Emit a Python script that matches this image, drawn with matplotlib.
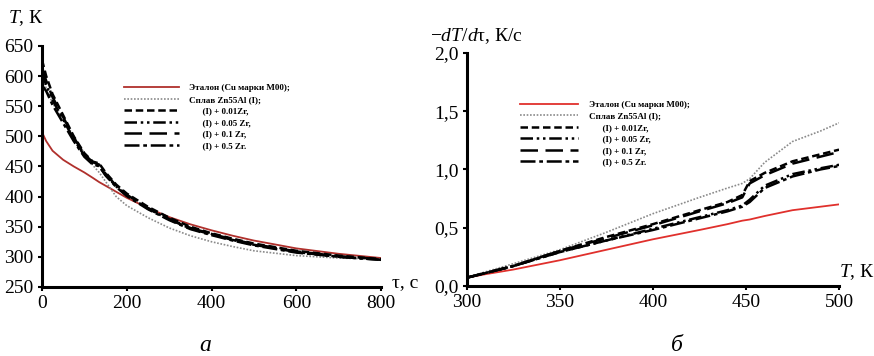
import matplotlib
matplotlib.use("Agg")
import matplotlib.pyplot as plt
from matplotlib.ticker import FuncFormatter

plt.rcParams['font.family'] = ['Liberation Serif', 'DejaVu Serif']
plt.rcParams['mathtext.fontset'] = 'custom'
plt.rcParams['mathtext.rm'] = 'Liberation Serif'
plt.rcParams['mathtext.it'] = 'Liberation Serif:italic'

# ---- data, panel a: T(tau) ----
tau = [0, 10, 25, 50, 75, 100, 120, 135, 150, 175, 200, 250, 300, 350, 400, 450, 500, 600, 700, 800]
t_ref = [507, 492, 476, 461, 450, 440, 431, 424, 418, 408, 398, 381, 366, 354, 344, 335, 327, 314, 305, 298]
t_alloy = [598, 580, 555, 528, 500, 472, 452, 440, 425, 400, 385, 365, 348, 335, 325, 317, 310, 302, 298, 296]
t_zr001 = [627, 600, 570, 535, 500, 472, 458, 455, 440, 420, 405, 383, 365, 350, 339, 330, 322, 310, 302, 296]
t_zr005 = [605, 585, 560, 528, 495, 468, 455, 450, 436, 417, 402, 380, 362, 347, 337, 328, 320, 308, 300, 295]
t_zr01 = [615, 592, 565, 532, 498, 470, 457, 453, 438, 418, 403, 381, 363, 348, 338, 329, 321, 309, 301, 296]
t_zr05 = [585, 575, 552, 522, 492, 466, 453, 451, 435, 416, 401, 379, 361, 346, 336, 327, 319, 307, 300, 295]

# ---- data, panel b: -dT/dtau(T) ----
temp = [300, 310, 325, 350, 375, 400, 425, 440, 448, 452, 460, 475, 490, 500]
r_ref = [0.07, 0.10, 0.14, 0.22, 0.31, 0.40, 0.48, 0.53, 0.56, 0.57, 0.60, 0.65, 0.68, 0.70]
r_alloy = [0.07, 0.12, 0.19, 0.31, 0.46, 0.62, 0.76, 0.84, 0.88, 0.92, 1.06, 1.24, 1.33, 1.40]
r_zr001 = [0.07, 0.11, 0.17, 0.30, 0.42, 0.53, 0.65, 0.72, 0.78, 0.90, 0.97, 1.07, 1.13, 1.17]
r_zr01 = [0.07, 0.11, 0.17, 0.30, 0.41, 0.52, 0.64, 0.71, 0.76, 0.88, 0.95, 1.05, 1.11, 1.15]
r_zr005 = [0.07, 0.11, 0.17, 0.29, 0.39, 0.49, 0.59, 0.65, 0.69, 0.74, 0.86, 0.96, 1.01, 1.04]
r_zr05 = [0.07, 0.11, 0.17, 0.29, 0.39, 0.48, 0.58, 0.64, 0.68, 0.72, 0.84, 0.94, 1.00, 1.03]

labels = ["Эталон (Cu марки М00);", "Сплав Zn55Al (I);",
          "      (I) + 0.01Zr,", "      (I) + 0.05 Zr,",
          "      (I) + 0.1 Zr,", "      (I) + 0.5 Zr."]

styles = [
    dict(color='#b0302c', lw=1.3, ls='-'),
    dict(color='#8a8a8a', lw=1.2, ls=(0, (1, 1))),
    dict(color='black', lw=1.8, ls=(0, (3, 1.5))),
    dict(color='black', lw=1.8, ls=(0, (5, 1.5, 1, 1.5, 1, 1.5))),
    dict(color='black', lw=1.8, ls=(0, (7, 3))),
    dict(color='black', lw=1.8, ls=(0, (6, 1.5, 1.5, 1.5))),
]

fig = plt.figure(figsize=(8.74, 3.56), dpi=100)
ax1 = fig.add_axes([0.048, 0.194, 0.388, 0.677])
ax2 = fig.add_axes([0.534, 0.197, 0.426, 0.654])

for ys, st, lab in zip([t_ref, t_alloy, t_zr001, t_zr005, t_zr01, t_zr05], styles, labels):
    ax1.plot(tau, ys, label=lab, **st)

styles_b = [dict(s) for s in styles]
styles_b[0]['color'] = '#e0302c'
for ys, st, lab in zip([r_ref, r_alloy, r_zr001, r_zr005, r_zr01, r_zr05], styles_b, labels):
    ax2.plot(temp, ys, label=lab, **st)

ax1.set_xlim(0, 800)
ax1.set_ylim(250, 650)
ax1.set_xticks([0, 200, 400, 600, 800])
ax1.set_yticks(range(250, 651, 50))

ax2.set_xlim(300, 500)
ax2.set_ylim(0, 2.0)
ax2.set_xticks([300, 350, 400, 450, 500])
ax2.set_yticks([0, 0.5, 1.0, 1.5, 2.0])
ax2.yaxis.set_major_formatter(FuncFormatter(lambda v, p: f"{v:.1f}".replace('.', ',')))

for ax in (ax1, ax2):
    for s in ('top', 'right'):
        ax.spines[s].set_visible(False)
    for s in ('left', 'bottom'):
        ax.spines[s].set_linewidth(2.2)
    ax.tick_params(labelsize=14, length=3, width=1.5, pad=3)

ax1.legend(loc='upper left', bbox_to_anchor=(0.23, 0.86), frameon=False,
           handlelength=6.0, labelspacing=0.35, handletextpad=1.2,
           borderpad=0, prop={'weight': 'bold', 'size': 6.5})
ax2.legend(loc='upper left', bbox_to_anchor=(0.13, 0.815), frameon=False,
           handlelength=6.5, labelspacing=0.35, handletextpad=1.2,
           borderpad=0, prop={'weight': 'bold', 'size': 6.5})

fig.text(0.009, 0.95, r"$T$, К", fontsize=14, va='center', ha='left')
fig.text(0.448, 0.205, "τ, с", fontsize=14, va='center', ha='left')
fig.text(0.492, 0.90, r"$-dT/d$τ, К/с", fontsize=14, va='center', ha='left')
fig.text(0.960, 0.236, r"$T$, К", fontsize=14, va='center', ha='left')
fig.text(0.235, 0.03, r"$a$", fontsize=17, va='center', ha='center')
fig.text(0.775, 0.03, "б", fontsize=17, va='center', ha='center', style='italic')

fig.savefig("out.png", dpi=100)
